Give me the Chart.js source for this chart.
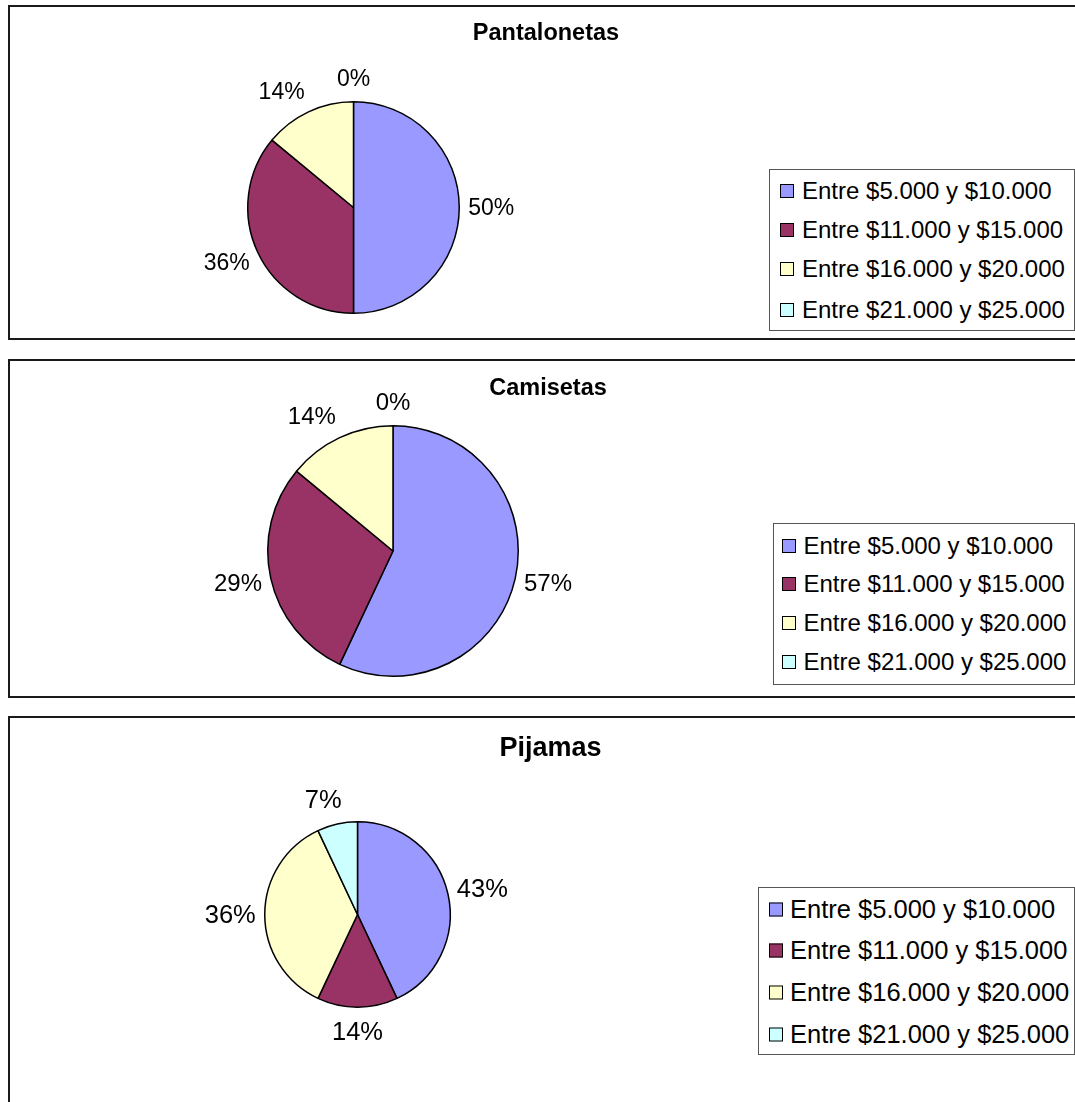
<!DOCTYPE html>
<html>
<head>
<meta charset="utf-8">
<script src="https://cdn.jsdelivr.net/npm/chart.js@4.4.1/dist/chart.umd.min.js"></script>
<style>
  body { margin: 0; background: #fff; width: 1075px; height: 1102px; overflow: hidden; position: relative;
         font-family: "Liberation Sans", Arial, sans-serif; color: #000; }
  .panel { position: absolute; left: 8px; width: 1200px; border: 2px solid #1a1a1a; background: #fff; box-sizing: border-box; }
  .title { position: absolute; font-weight: bold; white-space: nowrap; transform: translate(-50%, -50%); }
  .pie { position: absolute; z-index: 2; }
  .legend { position: absolute; border: 1px solid #555; background: #fff; z-index: 3; box-sizing: border-box; }
  .row { position: absolute; left: 0; white-space: nowrap; transform: translateY(-50%); display: flex; align-items: center; }
  .sw { display: inline-block; width: 12px; height: 12px; border: 1.5px solid #000; }
</style>
</head>
<body>

<script>
  // rangos de precio y porcentajes por prenda
  const categories = ["Entre $5.000 y $10.000", "Entre $11.000 y $15.000", "Entre $16.000 y $20.000", "Entre $21.000 y $25.000"];
  const titles = ["Pantalonetas", "Camisetas", "Pijamas"];
  const pantalonetas = [50, 36, 14, 0];
  const camisetas = [57, 29, 14, 0];
  const pijamas = [43, 14, 36, 7];
  const colors = ["#9999FF", "#993366", "#FFFFCC", "#CCFFFF"];

  // posicion de cada recuadro
  const layout = [
    { data: pantalonetas, top: 5, height: 335, titleX: 546, titleY: 32, titleSize: 23.5,
      cx: 353.5, cy: 207.5, r: 106, labelSize: 23,
      leg: { left: 769, top: 169, bottom: 331, rows: [190, 229, 268, 309], sw: 779, text: 802, size: 24 } },
    { data: camisetas, top: 359, height: 339, titleX: 548, titleY: 387, titleSize: 23.5,
      cx: 392.5, cy: 550.5, r: 125.5, labelSize: 24,
      leg: { left: 773, top: 523, bottom: 685, rows: [545, 583, 622, 661], sw: 781, text: 803.5, size: 24 } },
    { data: pijamas, top: 716, height: 420, titleX: 550.5, titleY: 747, titleSize: 27,
      cx: 357, cy: 914, r: 93, labelSize: 25.5,
      leg: { left: 758, top: 887, bottom: 1055, rows: [908, 949, 991, 1033], sw: 768, text: 790, size: 25.5 } }
  ];

  // etiquetas de porcentaje por fuera de cada tajada
  const pctLabels = {
    id: 'pctLabels',
    afterDatasetsDraw(chart, args, opts) {
      const ctx = chart.ctx;
      const meta = chart.getDatasetMeta(0);
      const data = chart.data.datasets[0].data;
      ctx.save();
      ctx.font = opts.size + 'px "Liberation Sans", Arial, sans-serif';
      ctx.fillStyle = '#000';
      ctx.textAlign = 'center';
      ctx.textBaseline = 'middle';
      meta.data.forEach((arc, i) => {
        const p = arc.getProps(['x', 'y', 'startAngle', 'endAngle', 'outerRadius'], true);
        const mid = (p.startAngle + p.endAngle) / 2;
        const dx = Math.cos(mid), dy = Math.sin(mid);
        const text = data[i] + '%';
        const hw = ctx.measureText(text).width / 2;
        const hh = opts.size * 0.6;
        const d = p.outerRadius + 9;
        const ox = Math.sign(dx) * hw * Math.min(1, Math.abs(dx) * 3);
        const oy = dy * hh;
        ctx.fillText(text, p.x + dx * d + ox, p.y + dy * d + oy + 1);
      });
      ctx.restore();
    }
  };

  const pad = 70;

  layout.forEach((cfg, k) => {
    const panel = document.createElement('div');
    panel.className = 'panel';
    panel.style.top = cfg.top + 'px';
    panel.style.height = cfg.height + 'px';
    document.body.appendChild(panel);

    const t = document.createElement('div');
    t.className = 'title';
    t.textContent = titles[k];
    t.style.left = cfg.titleX + 'px';
    t.style.top = cfg.titleY + 'px';
    t.style.fontSize = cfg.titleSize + 'px';
    t.style.zIndex = 3;
    document.body.appendChild(t);

    const size = Math.round(2 * (cfg.r + pad) + 1);
    const cv = document.createElement('canvas');
    cv.className = 'pie';
    cv.width = size;
    cv.height = size;
    cv.style.left = (cfg.cx - size / 2) + 'px';
    cv.style.top = (cfg.cy - size / 2) + 'px';
    document.body.appendChild(cv);

    new Chart(cv, {
      type: 'pie',
      data: {
        labels: categories,
        datasets: [{
          data: cfg.data,
          backgroundColor: colors,
          borderColor: '#000',
          borderWidth: 1.5
        }]
      },
      options: {
        responsive: false,
        animation: false,
        devicePixelRatio: 1,
        layout: { padding: pad },
        plugins: {
          legend: { display: false },
          tooltip: { enabled: false },
          pctLabels: { size: cfg.labelSize }
        }
      },
      plugins: [pctLabels]
    });

    // leyenda
    const L = cfg.leg;
    const box = document.createElement('div');
    box.className = 'legend';
    box.style.left = L.left + 'px';
    box.style.top = L.top + 'px';
    box.style.width = (1075 - L.left) + 'px';
    box.style.height = (L.bottom - L.top) + 'px';
    document.body.appendChild(box);
    categories.forEach((c, i) => {
      const row = document.createElement('div');
      row.className = 'row';
      row.style.top = (L.rows[i] - L.top) + 'px';
      row.style.left = (L.sw - L.left) + 'px';
      row.style.fontSize = L.size + 'px';
      const sw = document.createElement('span');
      sw.className = 'sw';
      sw.style.background = colors[i];
      const tx = document.createElement('span');
      tx.textContent = c;
      tx.style.marginLeft = (L.text - L.sw - 15) + 'px';
      row.appendChild(sw);
      row.appendChild(tx);
      box.appendChild(row);
    });
  });
</script>
</body>
</html>
